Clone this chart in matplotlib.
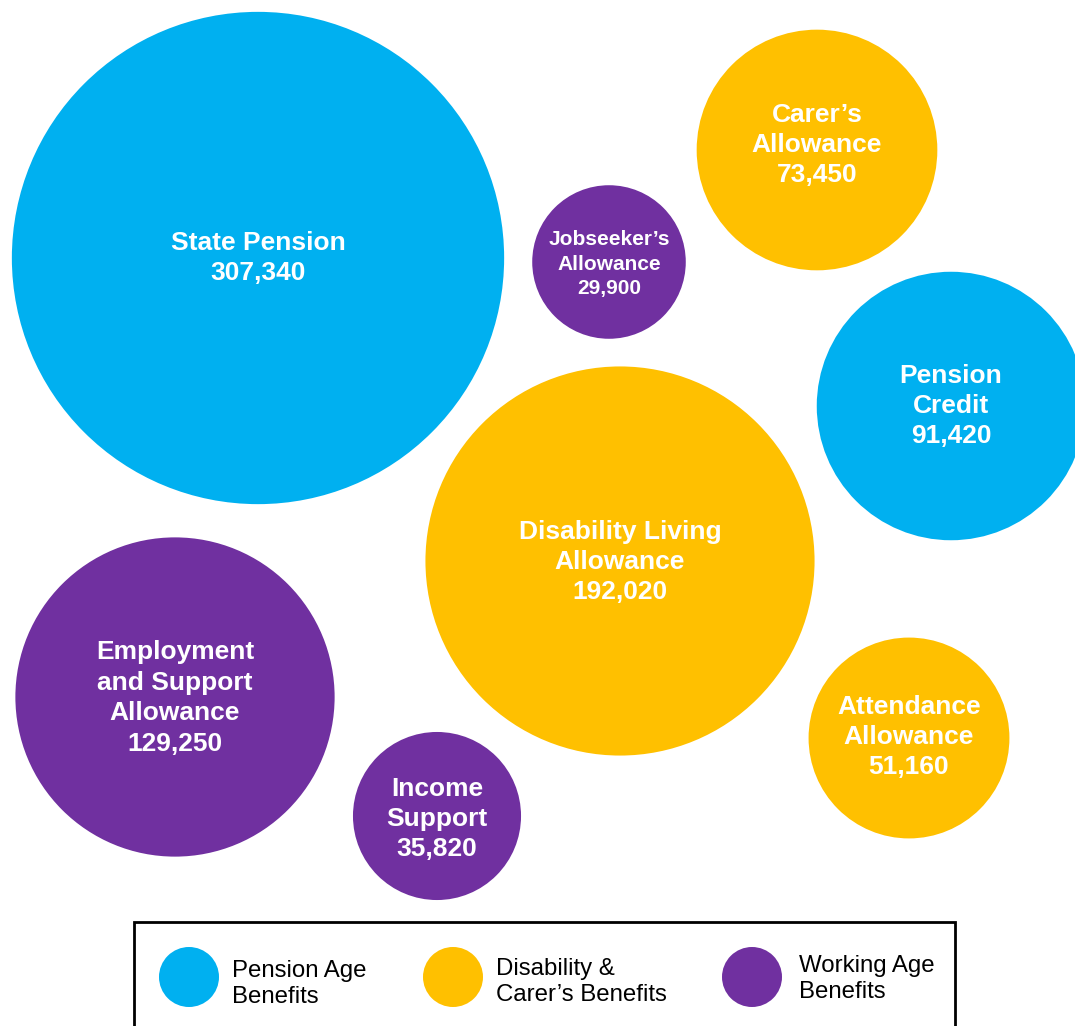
import numpy as np
import matplotlib.pyplot as plt
from matplotlib.patches import Circle, Rectangle

# Benefit caseloads
names = ['State Pension', 'Carer\u2019s\nAllowance', 'Jobseeker\u2019s\nAllowance', 'Pension\nCredit',
         'Disability Living\nAllowance', 'Employment\nand Support\nAllowance',
         'Income\nSupport', 'Attendance\nAllowance']
values = [307340, 73450, 29900, 91420, 192020, 129250, 35820, 51160]
groups = ['pension', 'disability', 'working', 'pension',
          'disability', 'working', 'working', 'disability']

group_labels = ['Pension Age\nBenefits', 'Disability &\nCarer\u2019s Benefits', 'Working Age\nBenefits']
group_keys = ['pension', 'disability', 'working']
colors = {'pension': '#00B0F0', 'disability': '#FFC000', 'working': '#7030A0'}

# bubble layout (pixel centres), area ~ value
centres = [(258, 258), (817, 150), (609, 262), (951, 406),
           (620, 561), (175, 697), (437, 816), (909, 738)]
text_dy = [0, -5, 2, 0, 1, 1, 3, -1]
scale = 0.444

fig = plt.figure(figsize=(10.75, 10.26), dpi=100)
ax = fig.add_axes([0, 0, 1, 1])
ax.set_xlim(0, 1075)
ax.set_ylim(1026, 0)
ax.axis('off')

for name, v, g, (cx, cy), dy in zip(names, values, groups, centres, text_dy):
    r = scale * np.sqrt(v)
    ax.add_patch(Circle((cx, cy), r, facecolor=colors[g], edgecolor='none'))
    fs = 15 if v < 30000 else 19
    ax.text(cx, cy + dy, f'{name}\n{v:,}', ha='center', va='center', color='white',
            fontsize=fs, fontweight='bold', family='Liberation Sans', linespacing=1.34)

# legend
ax.add_patch(Rectangle((134, 922), 821, 120, facecolor='white', edgecolor='black', lw=2, clip_on=False))
leg_x = [189, 453, 752]
leg_tx = [232, 496, 799]
leg_ty = [984, 982, 979]
for x, tx, ty, key, lab in zip(leg_x, leg_tx, leg_ty, group_keys, group_labels):
    ax.add_patch(Circle((x, 977), 30, facecolor=colors[key], edgecolor='none'))
    ax.text(tx, ty, lab, ha='left', va='center', fontsize=17.3,
            family='Liberation Sans', linespacing=1.25)

fig.savefig('out.png', dpi=100)
